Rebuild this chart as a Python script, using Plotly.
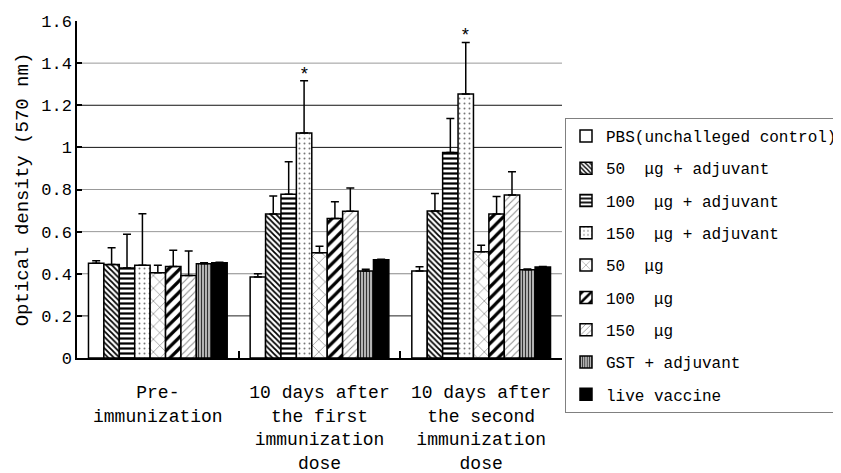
import plotly.graph_objects as go

categories = ["Pre-<br>immunization",
              "10 days after<br>the first<br>immunization<br>dose",
              "10 days after<br>the second<br>immunization<br>dose"]

series_names = ["PBS(unchalleged control)", "50  μg + adjuvant", "100  μg + adjuvant",
                "150  μg + adjuvant", "50  μg", "100  μg", "150  μg",
                "GST + adjuvant", "live vaccine"]

pbs_vals = [0.45, 0.385, 0.413]
pbs_err = [0.012, 0.015, 0.02]
adj50_vals = [0.444, 0.684, 0.698]
adj50_err = [0.08, 0.085, 0.083]
adj100_vals = [0.427, 0.777, 0.976]
adj100_err = [0.16, 0.155, 0.161]
adj150_vals = [0.44, 1.068, 1.254]
adj150_err = [0.245, 0.248, 0.244]
ug50_vals = [0.405, 0.50, 0.505]
ug50_err = [0.035, 0.03, 0.03]
ug100_vals = [0.435, 0.662, 0.684]
ug100_err = [0.077, 0.08, 0.083]
ug150_vals = [0.392, 0.697, 0.774]
ug150_err = [0.116, 0.11, 0.11]
gst_vals = [0.447, 0.413, 0.419]
gst_err = [0.005, 0.008, 0.004]
live_vals = [0.452, 0.466, 0.432]
live_err = [0.003, 0.003, 0.002]

all_vals = [pbs_vals, adj50_vals, adj100_vals, adj150_vals, ug50_vals,
            ug100_vals, ug150_vals, gst_vals, live_vals]
all_errs = [pbs_err, adj50_err, adj100_err, adj150_err, ug50_err,
            ug100_err, ug150_err, gst_err, live_err]

y_ticks = [0, 0.2, 0.4, 0.6, 0.8, 1.0, 1.2, 1.4, 1.6]
grid_levels = [0.2, 0.4, 0.6, 0.8, 1.0, 1.2, 1.4]
grid_colors = ["#222222", "#888888", "#999999", "#999999", "#111111", "#111111", "#999999"]

# significance marks: (series index, category index)
star_marks = [(3, 1), (3, 2)]

# styles
fills = ["white", "white", "white", "white", "white", "white", "white", "white", "black"]
patterns = [
    None,
    dict(shape="\\", fgcolor="black", bgcolor="white", size=4, solidity=0.45),
    dict(shape="-", fgcolor="black", bgcolor="white", size=5, solidity=0.45),
    dict(shape=".", fgcolor="#777777", bgcolor="white", size=5, solidity=0.12),
    dict(shape="x", fgcolor="#666666", bgcolor="white", size=9, solidity=0.12),
    dict(shape="/", fgcolor="black", bgcolor="white", size=8, solidity=0.4),
    dict(shape="/", fgcolor="#888888", bgcolor="white", size=5, solidity=0.2),
    dict(shape="|", fgcolor="#333333", bgcolor="#dddddd", size=3, solidity=0.5),
    None,
]

FONT = "Liberation Mono"
bargap = 0.142
# the page body has an 8px margin; the figure is sized to fit the 841x473 window
PAGE_OFF = 8
FIG_W, FIG_H = 841 - PAGE_OFF, 473 - PAGE_OFF

fig = go.Figure()
for i, name in enumerate(series_names):
    marker = dict(color=fills[i], line=dict(color="black", width=1.5))
    if patterns[i] is not None:
        marker["pattern"] = dict(fillmode="replace", **patterns[i])
    fig.add_trace(go.Bar(
        x=categories, y=all_vals[i], name=name, marker=marker,
        legendgroup="g%d" % i,
        error_y=dict(type="data", array=all_errs[i], arrayminus=[0] * len(categories),
                     symmetric=False, color="black", thickness=1.5, width=4),
    ))

for lvl, col in zip(grid_levels, grid_colors):
    fig.add_shape(type="line", xref="paper", yref="y", x0=0, x1=1, y0=lvl, y1=lvl,
                  line=dict(color=col, width=1), layer="below")

n = len(series_names)
bw = (1 - bargap) / n
for si, ci in star_marks:
    fig.add_annotation(x=ci + (si - (n - 1) / 2) * bw, y=all_vals[si][ci] + all_errs[si][ci],
                       xref="x", yref="y", text="*", showarrow=False, yanchor="bottom",
                       yshift=-6, font=dict(family=FONT, size=18, color="black"))

fig.update_layout(
    width=FIG_W, height=FIG_H,
    margin=dict(l=77 - PAGE_OFF, r=279, t=21 - PAGE_OFF, b=115, autoexpand=False),
    paper_bgcolor="white", plot_bgcolor="white",
    barmode="group", bargap=bargap, bargroupgap=0,
    font=dict(family=FONT, size=17, color="black"),
    showlegend=True,
    legend=dict(xref="container", yref="container",
                x=(565 - PAGE_OFF) / FIG_W, y=1 - (118 - PAGE_OFF) / FIG_H,
                xanchor="left", yanchor="top", maxheight=1.0,
                bordercolor="#808080", borderwidth=1, bgcolor="white",
                traceorder="grouped", tracegroupgap=8.5,
                font=dict(family=FONT, size=16, color="black")),
)
fig.update_xaxes(type="category", showline=True, linecolor="black", linewidth=1.5,
                 ticks="inside", tickson="boundaries", ticklen=7, tickcolor="black",
                 tickwidth=1.5, showgrid=False, ticklabelstandoff=17,
                 tickfont=dict(family=FONT, size=18))
fig.update_yaxes(range=[0, 1.6], tickvals=y_ticks, showline=True, linecolor="black",
                 linewidth=1.5, ticks="inside", ticklen=5, tickcolor="black", tickwidth=1.5,
                 showgrid=False, zeroline=False, tickfont=dict(family=FONT, size=17),
                 title=dict(text="Optical density (570 nm)", standoff=8,
                            font=dict(family=FONT, size=19)))

fig.write_html("out.html")
